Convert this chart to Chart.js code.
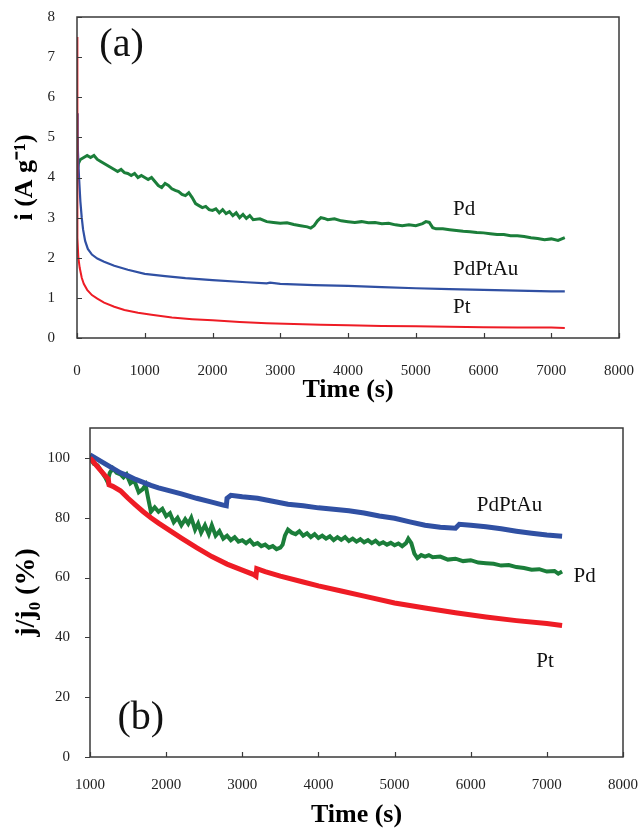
<!DOCTYPE html>
<html>
<head>
<meta charset="utf-8">
<script src="https://cdn.jsdelivr.net/npm/chart.js@4"></script>
<style>
html, body { margin: 0; padding: 0; background: #fff; }
#wrap { position: relative; width: 638px; height: 832px; }
canvas { position: absolute; left: 0; }
#chartA { top: 0; }
#chartB { top: 410px; }
</style>
</head>
<body>
<div id="wrap">
<canvas id="chartA" width="638" height="410"></canvas>
<canvas id="chartB" width="638" height="422"></canvas>
</div>
<script>
// ---- panel (a): current density vs time ----
const aTicksX = [0, 1000, 2000, 3000, 4000, 5000, 6000, 7000, 8000];
const aTicksY = [0, 1, 2, 3, 4, 5, 6, 7, 8];

const aPtTime = [0, 2, 5, 10, 20, 40, 70, 100, 150, 220, 300, 400, 550, 700, 900, 1100, 1400, 1700, 2000, 2400, 2800, 3200, 3600, 4000, 4500, 5000, 5500, 6000, 6500, 7000, 7200];
const aPt = [7.5, 5.0, 3.4, 2.5, 2.0, 1.75, 1.5, 1.35, 1.2, 1.07, 0.98, 0.88, 0.78, 0.7, 0.63, 0.58, 0.51, 0.47, 0.44, 0.4, 0.37, 0.35, 0.33, 0.32, 0.3, 0.29, 0.28, 0.27, 0.26, 0.26, 0.25];

const aAuTime = [0, 10, 30, 50, 70, 90, 120, 160, 220, 300, 400, 550, 750, 1000, 1300, 1600, 2000, 2500, 2800, 2850, 3000, 3500, 4000, 4500, 5000, 5500, 6000, 6500, 7000, 7200];
const aPdPtAu = [5.6, 4.8, 4.0, 3.4, 3.0, 2.7, 2.42, 2.22, 2.08, 1.98, 1.9, 1.8, 1.7, 1.6, 1.54, 1.49, 1.44, 1.39, 1.36, 1.38, 1.35, 1.32, 1.3, 1.27, 1.24, 1.22, 1.2, 1.18, 1.16, 1.16];

const aPdTime = [0, 5, 20, 50, 100, 150, 200, 250, 300, 350, 400, 450, 500, 550, 600, 650, 700, 750, 800, 850, 900, 950, 1000, 1050, 1100, 1150, 1200, 1250, 1300, 1350, 1400, 1450, 1500, 1550, 1600, 1650, 1700, 1750, 1800, 1850, 1900, 1950, 2000, 2050, 2100, 2150, 2200, 2250, 2300, 2350, 2400, 2450, 2500, 2550, 2600, 2700, 2800, 2900, 3000, 3100, 3200, 3300, 3400, 3450, 3500, 3550, 3600, 3650, 3700, 3800, 3900, 4000, 4100, 4200, 4300, 4400, 4500, 4600, 4700, 4800, 4900, 5000, 5100, 5150, 5200, 5250, 5300, 5400, 5500, 5600, 5700, 5800, 5900, 6000, 6100, 6200, 6300, 6400, 6500, 6600, 6700, 6800, 6900, 7000, 7100, 7200];
const aPd = [5.0, 4.2, 4.35, 4.45, 4.5, 4.55, 4.5, 4.55, 4.45, 4.4, 4.35, 4.3, 4.25, 4.2, 4.15, 4.2, 4.12, 4.1, 4.05, 4.1, 4.0, 4.05, 4.0, 3.95, 4.0, 3.9, 3.8, 3.75, 3.85, 3.8, 3.72, 3.68, 3.65, 3.58, 3.55, 3.62, 3.5, 3.35, 3.3, 3.25, 3.28, 3.2, 3.18, 3.22, 3.12, 3.2, 3.1, 3.15, 3.05, 3.12, 3.0, 3.08, 2.98, 3.05, 2.95, 2.97, 2.9, 2.88, 2.86, 2.87, 2.83, 2.8, 2.77, 2.74, 2.8, 2.92, 3.0, 2.98, 2.95, 2.97, 2.92, 2.9, 2.88, 2.9, 2.87, 2.88, 2.85, 2.86, 2.82, 2.8, 2.82, 2.8, 2.85, 2.9, 2.88, 2.75, 2.72, 2.72, 2.7, 2.68, 2.66, 2.65, 2.63, 2.62, 2.6, 2.58, 2.58, 2.55, 2.55, 2.53, 2.5, 2.48, 2.45, 2.47, 2.43, 2.5];

// ---- panel (b): normalised current vs time ----
const bTicksX = [1000, 2000, 3000, 4000, 5000, 6000, 7000, 8000];
const bTicksY = [0, 20, 40, 60, 80, 100];

const bPtTime = [1000, 1100, 1200, 1240, 1250, 1300, 1400, 1500, 1600, 1700, 1800, 1900, 2000, 2200, 2400, 2600, 2800, 3000, 3150, 3180, 3190, 3300, 3500, 3800, 4000, 4300, 4600, 5000, 5400, 5800, 6200, 6600, 7000, 7200];
const bPt = [100, 97, 94, 93, 91, 90.5, 89, 86.5, 84.2, 82, 80, 78.2, 76.5, 73.2, 70, 67, 64.5, 62.5, 61, 60.5, 63, 62, 60.5, 58.5, 57.2, 55.5, 53.8, 51.5, 49.8, 48.2, 46.8, 45.6, 44.6, 44];

const bAuTime = [1000, 1100, 1200, 1300, 1400, 1500, 1600, 1700, 1800, 1900, 2000, 2200, 2400, 2600, 2750, 2790, 2800, 2850, 3000, 3200, 3400, 3600, 3800, 4000, 4200, 4400, 4600, 4800, 5000, 5200, 5400, 5600, 5800, 5850, 6000, 6200, 6400, 6600, 6800, 7000, 7200];
const bPdPtAu = [101, 99.5, 98, 96.5, 95, 94, 92.8, 91.8, 90.8, 90, 89.3, 88, 86.5, 85.2, 84.2, 84, 86.5, 87.5, 87, 86.5, 85.5, 84.5, 84, 83.3, 82.8, 82.3, 81.6, 80.6, 79.8, 78.6, 77.5, 76.8, 76.5, 77.8, 77.5, 77, 76.3, 75.5, 74.8, 74.2, 73.8];

const bPdTime = [1000, 1050, 1100, 1150, 1200, 1230, 1260, 1300, 1350, 1400, 1440, 1480, 1530, 1580, 1640, 1690, 1730, 1760, 1800, 1850, 1900, 1950, 2000, 2050, 2100, 2150, 2200, 2250, 2290, 2330, 2380, 2420, 2460, 2510, 2560, 2600, 2650, 2700, 2750, 2800, 2850, 2900, 2950, 3000, 3050, 3100, 3150, 3200, 3250, 3300, 3350, 3400, 3450, 3500, 3530, 3560, 3600, 3650, 3700, 3750, 3800, 3850, 3900, 3950, 4000, 4050, 4100, 4150, 4200, 4250, 4300, 4350, 4400, 4450, 4500, 4550, 4600, 4650, 4700, 4750, 4800, 4850, 4900, 4950, 5000, 5050, 5100, 5150, 5180, 5220, 5260, 5300, 5350, 5400, 5450, 5500, 5600, 5700, 5800, 5900, 6000, 6100, 6200, 6300, 6400, 6500, 6600, 6700, 6800, 6900, 7000, 7100, 7150, 7200];
const bPd = [100, 98, 97.5, 95.5, 93.5, 92, 95, 96.5, 95, 94.5, 93.5, 94.5, 91.5, 92.5, 88.5, 89.5, 91, 87, 82, 83.5, 82, 83, 80.5, 81.5, 78.5, 80, 77.5, 79.5, 78, 80, 76, 78, 75, 77.5, 74.5, 77.5, 74, 75.5, 73, 74, 72.5, 73.5, 72, 72.5, 71.5, 72.5, 71, 71.5, 70.5, 71, 70, 70.5, 69.5, 70, 71, 74, 76, 75, 74.5, 75.5, 74, 74.8, 73.5, 74.5, 73.2, 74, 73, 73.8, 72.5, 73.5, 72.6, 73.5, 72.2, 73, 72, 72.8, 71.8, 72.5, 71.5, 72.3, 71.2, 71.8, 71, 71.6, 70.8, 71.4, 70.5, 71.5, 73, 71.5, 68, 66.5, 67.5, 67, 67.5, 66.8, 67, 66, 66.3, 65.5, 65.8, 65, 64.8, 64.6, 64, 64.2, 63.5, 63.2, 62.6, 62.8, 62, 62.2, 61.3, 62];

const RED = '#ee1c25';
const BLUE = '#3050a3';
const GREEN = '#1b7e3a';
const SERIF = '"Liberation Serif", "Times New Roman", serif';

function pts(xs, ys) {
    return xs.map((x, i) => ({ x: x, y: ys[i] }));
}

// box round the plot, inward/outward tick marks and text notes
const framePlugin = {
    id: 'frame',
    afterDatasetsDraw(chart, args, opts) {
        const ctx = chart.ctx;
        const a = chart.chartArea;
        const sx = chart.scales.x;
        const sy = chart.scales.y;
        ctx.save();
        ctx.strokeStyle = opts.color;
        ctx.lineWidth = 1.5;
        ctx.strokeRect(a.left, a.top, a.right - a.left, a.bottom - a.top);
        ctx.lineWidth = 1.2;
        ctx.beginPath();
        sx.ticks.forEach(t => {
            const px = Math.round(sx.getPixelForValue(t.value)) + 0.5;
            ctx.moveTo(px, a.bottom);
            ctx.lineTo(px, a.bottom - 5);
        });
        sy.ticks.forEach(t => {
            const py = Math.round(sy.getPixelForValue(t.value)) + 0.5;
            ctx.moveTo(a.left, py);
            ctx.lineTo(a.left + (opts.yInside ? 5 : -5), py);
        });
        ctx.stroke();
        ctx.fillStyle = '#111';
        ctx.textAlign = 'left';
        ctx.textBaseline = 'middle';
        opts.notes.forEach(n => {
            ctx.font = n.size + 'px ' + SERIF;
            ctx.fillText(n.text, sx.getPixelForValue(n.x), sy.getPixelForValue(n.y));
        });
        ctx.restore();
    }
};

function makeChart(id, cfg) {
    return new Chart(document.getElementById(id), {
        type: 'line',
        data: { datasets: cfg.datasets },
        options: {
            responsive: false,
            animation: false,
            devicePixelRatio: 1,
            layout: { padding: cfg.padding, autoPadding: false },
            elements: { point: { radius: 0 }, line: { tension: 0 } },
            plugins: {
                legend: { display: false },
                tooltip: { enabled: false },
                frame: { color: '#3a3a3a', yInside: cfg.yInside, notes: cfg.notes }
            },
            scales: {
                x: {
                    type: 'linear',
                    min: cfg.xTicks[0],
                    max: cfg.xTicks[cfg.xTicks.length - 1],
                    afterBuildTicks: s => { s.ticks = cfg.xTicks.map(v => ({ value: v })); },
                    afterFit: s => {
                        s.height = cfg.xHeight;
                        s.paddingLeft = 0;
                        s.paddingRight = 0;
                    },
                    grid: { display: false },
                    border: { display: false },
                    ticks: { color: '#222', font: { family: SERIF, size: 15 }, padding: cfg.xPad, maxRotation: 0, autoSkip: false, callback: v => String(v) },
                    title: { display: true, text: 'Time (s)', color: '#000', font: { family: SERIF, size: 26, weight: 'bold' }, padding: { top: 0, bottom: cfg.xTitlePad } }
                },
                y: {
                    type: 'linear',
                    min: cfg.yMin,
                    max: cfg.yMax,
                    afterBuildTicks: s => { s.ticks = cfg.yTicks.map(v => ({ value: v })); },
                    afterFit: s => {
                        s.width = cfg.yWidth;
                        s.paddingTop = 0;
                        s.paddingBottom = 0;
                    },
                    grid: { display: false },
                    border: { display: false },
                    ticks: { color: '#222', font: { family: SERIF, size: 15 }, padding: cfg.yPad, autoSkip: false, callback: v => String(v) },
                    title: { display: true, text: cfg.yTitle, color: '#000', font: { family: SERIF, size: cfg.yTitleSize, weight: 'bold' }, padding: { top: 10, bottom: 0 } }
                }
            }
        },
        plugins: [framePlugin]
    });
}

makeChart('chartA', {
    datasets: [
        { data: pts(aPtTime, aPt), borderColor: RED, borderWidth: 2 },
        { data: pts(aAuTime, aPdPtAu), borderColor: BLUE, borderWidth: 2.2 },
        { data: pts(aPdTime, aPd), borderColor: GREEN, borderWidth: 3 }
    ],
    padding: { top: 17, right: 19, bottom: 0, left: 0 },
    xTicks: aTicksX, yTicks: aTicksY, yMin: 0, yMax: 8,
    xHeight: 72, yWidth: 77, xPad: 16, yPad: 14, xTitlePad: 4,
    yInside: true,
    yTitle: 'i (A g\u207B\u00B9)', yTitleSize: 26,
    notes: [
        { text: '(a)', x: 330, y: 7.3, size: 40 },
        { text: 'Pd', x: 5550, y: 3.2, size: 21 },
        { text: 'PdPtAu', x: 5550, y: 1.7, size: 21 },
        { text: 'Pt', x: 5550, y: 0.76, size: 21 }
    ]
});

makeChart('chartB', {
    datasets: [
        { data: pts(bPtTime, bPt), borderColor: RED, borderWidth: 5 },
        { data: pts(bAuTime, bPdPtAu), borderColor: BLUE, borderWidth: 5 },
        { data: pts(bPdTime, bPd), borderColor: GREEN, borderWidth: 4 }
    ],
    padding: { top: 18, right: 15, bottom: 0, left: 0 },
    xTicks: bTicksX, yTicks: bTicksY, yMin: 0, yMax: 110,
    xHeight: 75, yWidth: 90, xPad: 11, yPad: 12, xTitlePad: 1,
    yInside: false,
    yTitle: 'j/j\u2080 (%)', yTitleSize: 28,
    notes: [
        { text: '(b)', x: 1360, y: 13, size: 40 },
        { text: 'PdPtAu', x: 6080, y: 84, size: 21 },
        { text: 'Pd', x: 7350, y: 60.3, size: 21 },
        { text: 'Pt', x: 6860, y: 32, size: 21 }
    ]
});
</script>
</body>
</html>
